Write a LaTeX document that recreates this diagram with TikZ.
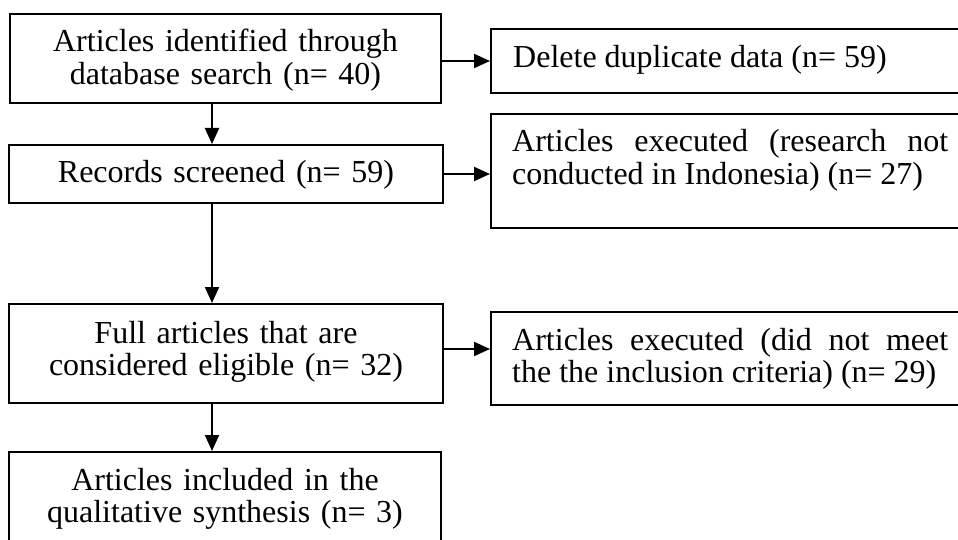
\documentclass[tikz,border=0pt]{standalone}
\usepackage{fontspec}
\setmainfont{Liberation Serif}
\usetikzlibrary{arrows.meta}
\hyphenpenalty=10000
\exhyphenpenalty=10000
\tolerance=10000
\begin{document}
\begin{tikzpicture}[x=1pt,y=-1pt,
  box/.style={draw=black,line width=2pt,rectangle,inner sep=0pt},
  txt/.style={inner sep=0pt,font=\fontsize{32}{32.5}\selectfont,text=black},
  ctxt/.style={txt,text width=430pt,align=center,anchor=base},
  rtxt/.style={txt,text width=436pt,align=justify,anchor=base west},
  arr/.style={line width=2pt,-{Triangle[length=16pt,width=14pt]}}]
\useasboundingbox (0,0) rectangle (958,540);
\clip (0,0) rectangle (958,540);
% left boxes
\node[box,minimum width=431pt,minimum height=89pt] (A) at (225.5,58.5) {};
\node[box,minimum width=434pt,minimum height=58pt] (B) at (226,174) {};
\node[box,minimum width=434pt,minimum height=99pt] (C) at (226,353.5) {};
\node[box,minimum width=432pt,minimum height=108pt] (D) at (225,506) {};
% right boxes
\node[box,minimum width=484pt,minimum height=64pt] (E) at (733,61) {};
\node[box,minimum width=484pt,minimum height=114pt] (F) at (733,171) {};
\node[box,minimum width=484pt,minimum height=93pt] (G) at (733,358.5) {};
% texts
\node[ctxt] (tA) at (225.5,52) {Articles identified through\\database search (n= 40)};
\node[ctxt] (tB) at (226,183) {Records screened (n= 59)};
\node[ctxt] (tC) at (226,343) {Full articles that are\\considered eligible (n= 32)};
\node[ctxt] (tD) at (225,490) {Articles included in the\\qualitative synthesis (n= 3)};
\node[txt,anchor=base west] (tE) at (513,68) {Delete duplicate data (n= 59)};
\node[rtxt] (tF) at (512,152) {Articles executed (research not\linebreak conducted in Indonesia) (n= 27)};
\node[rtxt] (tG) at (512,350) {Articles executed (did not meet\linebreak the the inclusion criteria) (n= 29)};
% connectors
\coordinate (vx) at (212,0);
\coordinate (h3) at (0,349);
\draw[arr] (A.south -| vx) -- (B.north -| vx);
\draw[arr] (B.south -| vx) -- (C.north -| vx);
\draw[arr] (C.south -| vx) -- (D.north -| vx);
\draw[arr] (A.east |- E.west) -- (E.west);
\draw[arr] (B.east) -- (B.east -| F.west);
\draw[arr] (C.east |- h3) -- (G.west |- h3);
\end{tikzpicture}
\end{document}
